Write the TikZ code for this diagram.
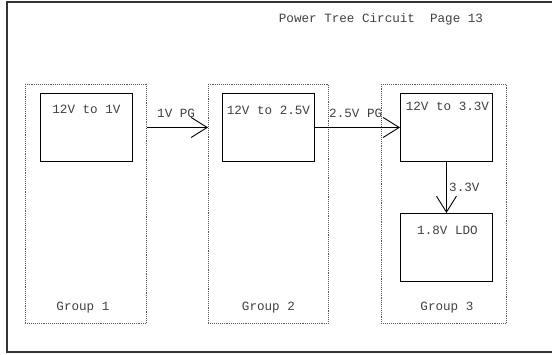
\documentclass[tikz,border=0pt]{standalone}
\usepackage{fontspec}
\setmonofont{Liberation Mono}
\usetikzlibrary{arrows.meta}
\begin{document}
\begin{tikzpicture}[x=1pt,y=-1pt,
  every node/.style={font=\ttfamily\fontsize{12.6}{14}\selectfont, inner sep=0pt, text=black!75},
  groupbox/.style={draw=black!65, densely dotted, line width=0.9pt, minimum width=121pt, minimum height=239pt, anchor=north west},
  unitbox/.style={draw=black, line width=0.9pt, minimum width=92pt, minimum height=68pt, anchor=north west},
  conn/.style={draw=black, line width=0.9pt, -{Straight Barb[length=16pt,width=20pt,line width=0.9pt]}}
]
\useasboundingbox (0,0) rectangle (552,354);
\draw[line width=1.1pt, black!80] (553,2) -- (7,2) -- (7,352) -- (553,352);

\node[anchor=center] (title) at (381,19) {Power Tree Circuit\ \ Page 13};

\node[groupbox] (g1) at (25,84) {};
\node[groupbox, minimum width=120pt] (g2) at (208,84) {};
\node[groupbox, minimum width=125pt] (g3) at (381,84) {};

\node[unitbox] (b1) at (40,93) {};
\node[unitbox] (b2) at (222,93) {};
\node[unitbox] (b3) at (400,93) {};
\node[unitbox] (ldo) at (400,213) {};

\node (t1) at ([yshift=-16pt]b1.north) {12V to 1V};
\node (t2) at ([yshift=-17pt]b2.north) {12V to 2.5V};
\node (t3) at ([yshift=-13pt,xshift=1pt]b3.north) {12V to 3.3V};
\node (tl) at ([yshift=-17pt,xshift=1pt]ldo.north) {1.8V LDO};

\node (gl1) at ([yshift=16pt,xshift=-3pt]g1.south) {Group 1};
\node (gl2) at ([yshift=16pt]g2.south) {Group 2};
\node (gl3) at ([yshift=16pt,xshift=3pt]g3.south) {Group 3};

\coordinate (a1s) at (g1.east |- b1.east);
\coordinate (a1e) at (g2.west |- b1.east);
\draw[conn] (a1s) -- (a1e);
\draw[conn] (b2.east) -- (b3.west);
\draw[conn] (b3.south) -- (ldo.north);

\node[anchor=west] (l1) at (157,113) {1V PG};
\node[anchor=west] (l2) at (329,113) {2.5V PG};
\node[anchor=west] (l3) at (449,187) {3.3V};
\end{tikzpicture}
\end{document}
